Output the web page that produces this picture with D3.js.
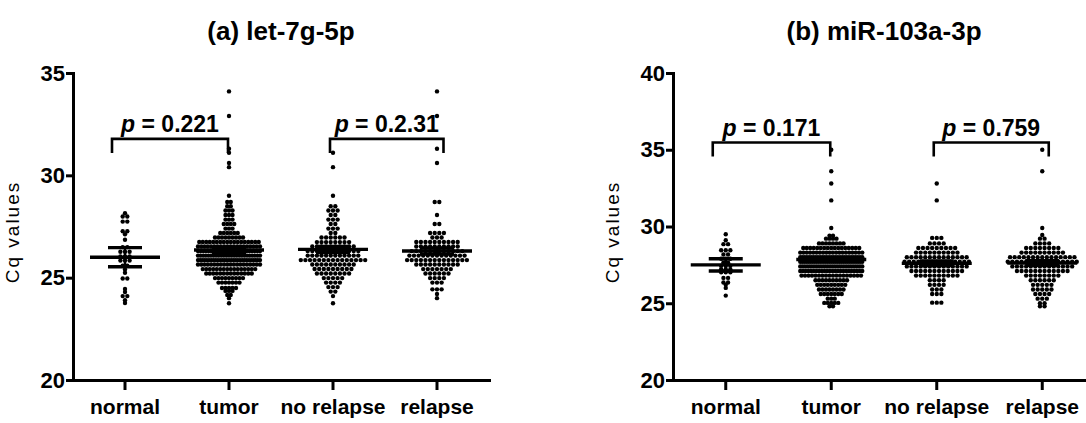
<!DOCTYPE html>
<html>
<head>
<meta charset="utf-8">
<script src="https://cdn.jsdelivr.net/npm/d3@7"></script>
<style>
  body { margin: 0; background: #fff; overflow: hidden; }
  svg text { font-family: "Liberation Sans", Arial, sans-serif; fill: #000; }
</style>
</head>
<body>
<svg id="chart" width="1086" height="423"></svg>
<script>
// Categories shared by both panels
const groups = ["normal", "tumor", "no relapse", "relapse"];

// (a) let-7g-5p Cq values
const normalA = [28.15, 28.0, 27.97, 27.8, 27.68, 27.3, 27.24, 27.12, 26.85, 26.52, 26.46, 26.3, 26.27, 26.22,
  26.08, 26.04, 25.98, 25.9, 25.84, 25.78, 25.62, 25.56, 25.4, 25.24, 25.02, 24.9, 24.45, 24.3, 24.16, 24.04, 23.9, 23.76];
const noRelapseA = [31.1, 30.4, 29.0, 28.5, 28.48, 28.3, 28.28, 28.26, 28.07, 28.05, 27.85, 27.84, 27.82, 27.63, 27.61,
  27.41, 27.4, 27.38, 27.19, 27.17, 26.98, 26.97, 26.96, 26.96, 26.95, 26.94,
  26.76, 26.75, 26.75, 26.74, 26.74, 26.73, 26.72, 26.72,
  26.54, 26.54, 26.53, 26.53, 26.52, 26.52, 26.51, 26.51, 26.5, 26.5,
  26.32, 26.32, 26.31, 26.31, 26.3, 26.3, 26.3, 26.29, 26.29, 26.28, 26.28, 26.28,
  26.1, 26.1, 26.09, 26.09, 26.08, 26.08, 26.08, 26.07, 26.07, 26.06, 26.06, 26.06,
  25.88, 25.88, 25.87, 25.87, 25.87, 25.86, 25.86, 25.86, 25.86, 25.85, 25.85, 25.85, 25.84, 25.84, 25.84,
  25.66, 25.66, 25.65, 25.65, 25.64, 25.64, 25.63, 25.63, 25.62, 25.62,
  25.44, 25.43, 25.43, 25.42, 25.42, 25.42, 25.41, 25.41, 25.4,
  25.22, 25.21, 25.21, 25.2, 25.2, 25.19, 25.19, 25.18,
  25.0, 24.99, 24.98, 24.97, 24.96, 24.77, 24.76, 24.76, 24.75, 24.55, 24.54, 24.53, 24.33, 24.31, 24.1, 23.75];
const relapseA = [34.1, 32.9, 31.3, 30.6, 28.71, 28.69, 28.06, 27.63, 27.61, 27.2, 27.19, 27.17, 27.16, 26.97, 26.96, 26.95,
  26.76, 26.76, 26.75, 26.75, 26.74, 26.74, 26.73, 26.73, 26.72, 26.72,
  26.54, 26.54, 26.53, 26.53, 26.52, 26.52, 26.51, 26.51, 26.5, 26.5,
  26.32, 26.32, 26.31, 26.31, 26.3, 26.3, 26.3, 26.29, 26.29, 26.28, 26.28, 26.28,
  26.1, 26.1, 26.09, 26.09, 26.09, 26.08, 26.08, 26.08, 26.07, 26.07, 26.06, 26.06, 26.06,
  25.88, 25.88, 25.87, 25.87, 25.87, 25.86, 25.86, 25.86, 25.85, 25.85, 25.85, 25.84, 25.84, 25.84,
  25.66, 25.66, 25.65, 25.65, 25.64, 25.64, 25.63, 25.63, 25.62, 25.62,
  25.44, 25.43, 25.42, 25.42, 25.41, 25.41, 25.4,
  25.22, 25.21, 25.2, 25.2, 25.19, 25.18,
  25.0, 24.99, 24.97, 24.96, 24.77, 24.76, 24.75, 24.44, 24.43, 24.42, 24.2, 24.0];
// tumor samples = no relapse + relapse samples
const tumorA = noRelapseA.concat(relapseA);
const meansA = [26.0, 26.35, 26.38, 26.3];
const semA = [0.47, 0.12, 0.15, 0.15];
const pLabelsA = ["0.221", "0.2.31"];
const bracketYA = [31.78, 31.78];
const ticksA = [20, 25, 30, 35];

// (b) miR-103a-3p Cq values
const normalB = [29.5, 29.1, 28.9, 28.8, 28.5, 28.45, 28.4, 28.2, 28.15, 27.95, 27.9, 27.85, 27.7, 27.62, 27.5,
  27.45, 27.4, 27.3, 27.2, 27.15, 27.1, 27.0, 26.95, 26.7, 26.6, 26.4, 26.3, 26.2, 26.0, 25.5];
const noRelapseB = [32.8, 31.7, 29.35, 29.22, 29.2, 28.92, 28.91, 28.89, 28.88,
  28.63, 28.62, 28.61, 28.61, 28.6, 28.59, 28.59, 28.58, 28.57,
  28.33, 28.32, 28.31, 28.31, 28.3, 28.3, 28.29, 28.29, 28.28, 28.27,
  28.04, 28.03, 28.03, 28.02, 28.02, 28.01, 28.0, 28.0, 27.99, 27.99, 27.98, 27.98, 27.97, 27.96,
  27.74, 27.73, 27.73, 27.72, 27.72, 27.71, 27.71, 27.7, 27.7, 27.69, 27.69, 27.68, 27.68, 27.67, 27.66,
  27.44, 27.43, 27.43, 27.42, 27.42, 27.41, 27.4, 27.4, 27.39, 27.39, 27.38, 27.38, 27.37, 27.36,
  27.13, 27.12, 27.12, 27.11, 27.11, 27.1, 27.1, 27.09, 27.09, 27.08, 27.08, 27.07,
  26.83, 26.82, 26.82, 26.81, 26.8, 26.8, 26.79, 26.78, 26.78, 26.77,
  26.52, 26.51, 26.49, 26.48, 26.22, 26.21, 26.19, 26.18, 25.91, 25.9, 25.89, 25.61, 25.6, 25.59, 25.1, 25.02, 25.0];
const relapseB = [35.0, 33.6, 29.9, 29.45, 29.22, 29.2, 28.92, 28.91, 28.89, 28.88,
  28.63, 28.62, 28.61, 28.6, 28.6, 28.59, 28.58, 28.57,
  28.33, 28.32, 28.31, 28.31, 28.3, 28.3, 28.29, 28.29, 28.28, 28.27,
  28.04, 28.03, 28.03, 28.02, 28.02, 28.01, 28.01, 28.0, 28.0, 27.99, 27.99, 27.98, 27.98, 27.97, 27.96,
  27.74, 27.74, 27.73, 27.73, 27.72, 27.72, 27.71, 27.71, 27.7, 27.7, 27.69, 27.69, 27.68, 27.68, 27.67, 27.66,
  27.44, 27.43, 27.43, 27.42, 27.42, 27.41, 27.4, 27.4, 27.39, 27.39, 27.38, 27.38, 27.37, 27.36,
  27.13, 27.12, 27.12, 27.11, 27.11, 27.1, 27.1, 27.09, 27.09, 27.08, 27.08, 27.07,
  26.83, 26.82, 26.81, 26.8, 26.8, 26.79, 26.78, 26.77,
  26.52, 26.51, 26.5, 26.5, 26.49, 26.48, 26.22, 26.21, 26.2, 26.19, 26.18,
  25.92, 25.91, 25.9, 25.89, 25.88, 25.62, 25.61, 25.59, 25.58, 25.31, 25.3, 25.29, 25.01, 24.99, 24.81, 24.79];
const tumorB = noRelapseB.concat(relapseB);
const meansB = [27.5, 27.85, 27.6, 27.62];
const semB = [0.4, 0.12, 0.15, 0.15];
const pLabelsB = ["0.171", "0.759"];
const bracketYB = [35.47, 35.47];
const ticksB = [20, 25, 30, 35, 40];

const pairs = [["normal", "tumor"], ["no relapse", "relapse"]];

const panels = [
  { title: "(a) let-7g-5p", x0: 73, x1: 489, domain: [20, 35], ticks: ticksA,
    series: [normalA, tumorA, noRelapseA, relapseA], means: meansA, sems: semA, pvals: pLabelsA, bracketY: bracketYA },
  { title: "(b) miR-103a-3p", x0: 673, x1: 1095, domain: [20, 40], ticks: ticksB,
    series: [normalB, tumorB, noRelapseB, relapseB], means: meansB, sems: semB, pvals: pLabelsB, bracketY: bracketYB }
];

const plotTop = 73, plotBottom = 380;
const dotR = 2.2, rowGap = 2.6;
const dotSteps = [4.6, 3.5, 4.6, 4.6];
const maxWidths = [70, 62, 72, 72];
// bracket legs are drawn a little off the group centres, as in the original
const legNudge = [[-13, -1], [-3, 6.5]];

const svg = d3.select("#chart");

// GraphPad-like scatter: group values into rows and spread each row around the centre
function swarm(values, y, cx, step, maxW) {
    const sorted = values.map(v => ({ v: v, py: y(v) })).sort((a, b) => a.py - b.py);
    const rows = [];
    sorted.forEach(d => {
        const last = rows[rows.length - 1];
        if (last && d.py - last[0].py < rowGap) last.push(d);
        else rows.push([d]);
    });
    const pts = [];
    rows.forEach(r => {
        const n = r.length;
        const s = n > 1 ? Math.min(step, maxW / (n - 1)) : 0;
        const ry = d3.mean(r, d => d.py);
        r.forEach((d, i) => pts.push({ x: cx + (i - (n - 1) / 2) * s, y: ry }));
    });
    return pts;
}

panels.forEach(p => {
    const g = svg.append("g");
    const x = d3.scaleBand().domain(groups).range([p.x0, p.x1]);
    const y = d3.scaleLinear().domain(p.domain).range([plotBottom, plotTop]);
    const cx = k => x(k) + x.bandwidth() / 2;

    // title
    g.append("text")
        .attr("x", (p.x0 + p.x1) / 2)
        .attr("y", 40)
        .attr("text-anchor", "middle")
        .style("font-size", "26px")
        .style("font-weight", "bold")
        .text(p.title);

    // y axis label
    g.append("text")
        .attr("transform", `translate(${p.x0 - 54},232) rotate(-90)`)
        .attr("text-anchor", "middle")
        .style("font-size", "19px")
        .style("letter-spacing", "2px")
        .text("Cq values");

    // dots
    groups.forEach((k, i) => {
        const pts = swarm(p.series[i], y, cx(k), dotSteps[i], maxWidths[i]);
        g.append("g").selectAll("circle")
            .data(pts)
            .enter()
            .append("circle")
            .attr("cx", d => d.x)
            .attr("cy", d => d.y)
            .attr("r", dotR)
            .attr("fill", "#000");
    });

    // mean and SEM lines
    groups.forEach((k, i) => {
        const c = cx(k), m = p.means[i], s = p.sems[i];
        const lg = g.append("g").attr("stroke", "#000").attr("fill", "none");
        lg.append("line").attr("x1", c).attr("x2", c).attr("y1", y(m + s)).attr("y2", y(m - s)).attr("stroke-width", 2.5);
        lg.append("line").attr("x1", c - 35).attr("x2", c + 35).attr("y1", y(m)).attr("y2", y(m)).attr("stroke-width", 3.4);
        [m + s, m - s].forEach(v => {
            lg.append("line").attr("x1", c - 17).attr("x2", c + 17).attr("y1", y(v)).attr("y2", y(v)).attr("stroke-width", 3.4);
        });
    });

    // significance brackets
    pairs.forEach((pr, i) => {
        const xl = cx(pr[0]) + legNudge[i][0], xr = cx(pr[1]) + legNudge[i][1], yb = y(p.bracketY[i]);
        g.append("path")
            .attr("d", `M${xl},${yb + 14}V${yb}H${xr}V${yb + 14}`)
            .attr("fill", "none")
            .attr("stroke", "#000")
            .attr("stroke-width", 2.6);
        const t = g.append("text")
            .attr("x", (xl + xr) / 2)
            .attr("y", yb - 6.5)
            .attr("text-anchor", "middle")
            .style("font-size", "23px")
            .style("font-weight", "bold");
        t.append("tspan").style("font-style", "italic").text("p");
        t.append("tspan").text(" = " + p.pvals[i]);
    });

    // axes
    const ya = g.append("g")
        .attr("transform", `translate(${p.x0},0)`)
        .call(d3.axisLeft(y).tickValues(p.ticks).tickSize(7).tickPadding(1).tickSizeOuter(0));
    const xa = g.append("g")
        .attr("transform", `translate(0,${plotBottom})`)
        .call(d3.axisBottom(x).tickSize(10).tickPadding(9).tickSizeOuter(0));

    [ya, xa].forEach(a => {
        a.select(".domain").attr("stroke", "#000").attr("stroke-width", 3).attr("stroke-linecap", "square");
        a.selectAll(".tick line").attr("stroke", "#000").attr("stroke-width", 3);
        a.selectAll(".tick text").attr("fill", "#000").style("font-weight", "bold");
    });
    ya.selectAll(".tick text").style("font-size", "22px");
    xa.selectAll(".tick text").style("font-size", "21px");
});
</script>
</body>
</html>
